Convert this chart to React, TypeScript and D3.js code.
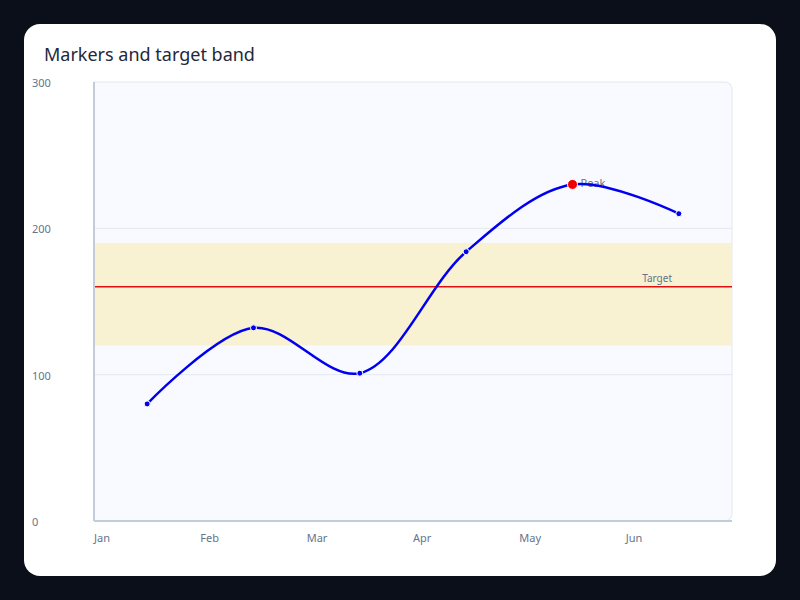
import React, { useEffect, useRef } from 'react';
import * as d3 from 'd3';

const months = ['Jan', 'Feb', 'Mar', 'Apr', 'May', 'Jun'];
const values = [80, 132, 101, 184, 230, 210];
const yTicks = [0, 100, 200, 300];
const band = { low: 120, high: 190 };
const target = 160;
const peakMonth = 'May';

const App: React.FC = () => {
  const svgRef = useRef<SVGSVGElement>(null);

  useEffect(() => {
    if (!svgRef.current) return;
    const width = 800;
    const height = 600;
    const svg = d3.select(svgRef.current);
    svg.selectAll('*').remove();

    const font = '"Noto Sans", "Open Sans", sans-serif';
    const left = 94, right = 732, top = 82, bottom = 521;

    // page + card
    svg.append('rect').attr('width', width).attr('height', height).attr('fill', '#0b0f1a');
    svg.append('rect').attr('x', 24).attr('y', 24).attr('width', 752).attr('height', 552).attr('rx', 16).attr('fill', '#ffffff');

    svg.append('text')
      .attr('x', 44).attr('y', 61)
      .attr('font-family', font).attr('font-size', 18)
      .attr('fill', '#1e293b')
      .text('Markers and target band');

    const x = d3.scaleBand().domain(months).range([left, right]);
    const y = d3.scaleLinear().domain([0, 300]).range([bottom, top]);

    // plot area
    svg.append('path')
      .attr('d', `M${left},${top} H${right - 8} Q${right},${top} ${right},${top + 8} V${bottom - 8} Q${right},${bottom} ${right - 8},${bottom} H${left} Z`)
      .attr('fill', '#f8faff')
      .attr('stroke', '#e2e8f0')
      .attr('stroke-width', 1);

    // gridlines
    yTicks.filter(t => t > 0 && t < 300).forEach(t => {
      svg.append('line')
        .attr('x1', left).attr('x2', right)
        .attr('y1', y(t)).attr('y2', y(t))
        .attr('stroke', '#e2e8f0').attr('stroke-width', 1);
    });

    // target band
    svg.append('rect')
      .attr('x', left).attr('width', right - left)
      .attr('y', y(band.high)).attr('height', y(band.low) - y(band.high))
      .attr('fill', '#f8f1d2');

    svg.append('line')
      .attr('x1', left).attr('x2', right)
      .attr('y1', y(target)).attr('y2', y(target))
      .attr('stroke', '#e01010').attr('stroke-width', 1.5);

    svg.append('text')
      .attr('x', right - 60).attr('y', y(target) - 5)
      .attr('text-anchor', 'end')
      .attr('font-family', font).attr('font-size', 10)
      .attr('fill', '#64748b')
      .text('Target');

    // axes
    svg.append('line').attr('x1', left).attr('x2', left).attr('y1', top).attr('y2', bottom)
      .attr('stroke', '#c3ccd9').attr('stroke-width', 2);
    svg.append('line').attr('x1', left).attr('x2', right).attr('y1', bottom).attr('y2', bottom)
      .attr('stroke', '#c3ccd9').attr('stroke-width', 2);

    yTicks.forEach(t => {
      svg.append('text')
        .attr('x', 32).attr('y', y(t) + 2)
        .attr('dominant-baseline', 'middle')
        .attr('font-family', font).attr('font-size', 11)
        .attr('fill', '#64748b')
        .text(String(t));
    });

    months.forEach(m => {
      svg.append('text')
        .attr('x', x(m)!).attr('y', bottom + 18)
        .attr('dominant-baseline', 'middle')
        .attr('font-family', font).attr('font-size', 11)
        .attr('fill', '#64748b')
        .text(m);
    });

    const cx = (i: number) => x(months[i])! + x.bandwidth() / 2;
    const peakIdx = months.indexOf(peakMonth);

    svg.append('text')
      .attr('x', cx(peakIdx) + 8).attr('y', y(values[peakIdx]))
      .attr('dominant-baseline', 'middle')
      .attr('font-family', font).attr('font-size', 11)
      .attr('fill', '#64748b')
      .text('Peak');

    const line = d3.line<number>()
      .x((_, i) => cx(i))
      .y(d => y(d))
      .curve(d3.curveCatmullRom.alpha(0.5));

    svg.append('path')
      .datum(values)
      .attr('fill', 'none')
      .attr('stroke', '#0000ee')
      .attr('stroke-width', 2.5)
      .attr('d', line);

    values.forEach((v, i) => {
      const isPeak = i === peakIdx;
      svg.append('circle')
        .attr('cx', cx(i)).attr('cy', y(v))
        .attr('r', isPeak ? 5 : 3)
        .attr('fill', isPeak ? '#ee0000' : '#0000ee')
        .attr('stroke', '#ffffff')
        .attr('stroke-width', 1);
    });
  }, []);

  return (
    <div style={{ position: 'fixed', left: 0, top: 0, width: 800, height: 600 }}>
      <svg ref={svgRef} width={800} height={600} style={{ display: 'block' }}></svg>
    </div>
  );
};

export default App;
